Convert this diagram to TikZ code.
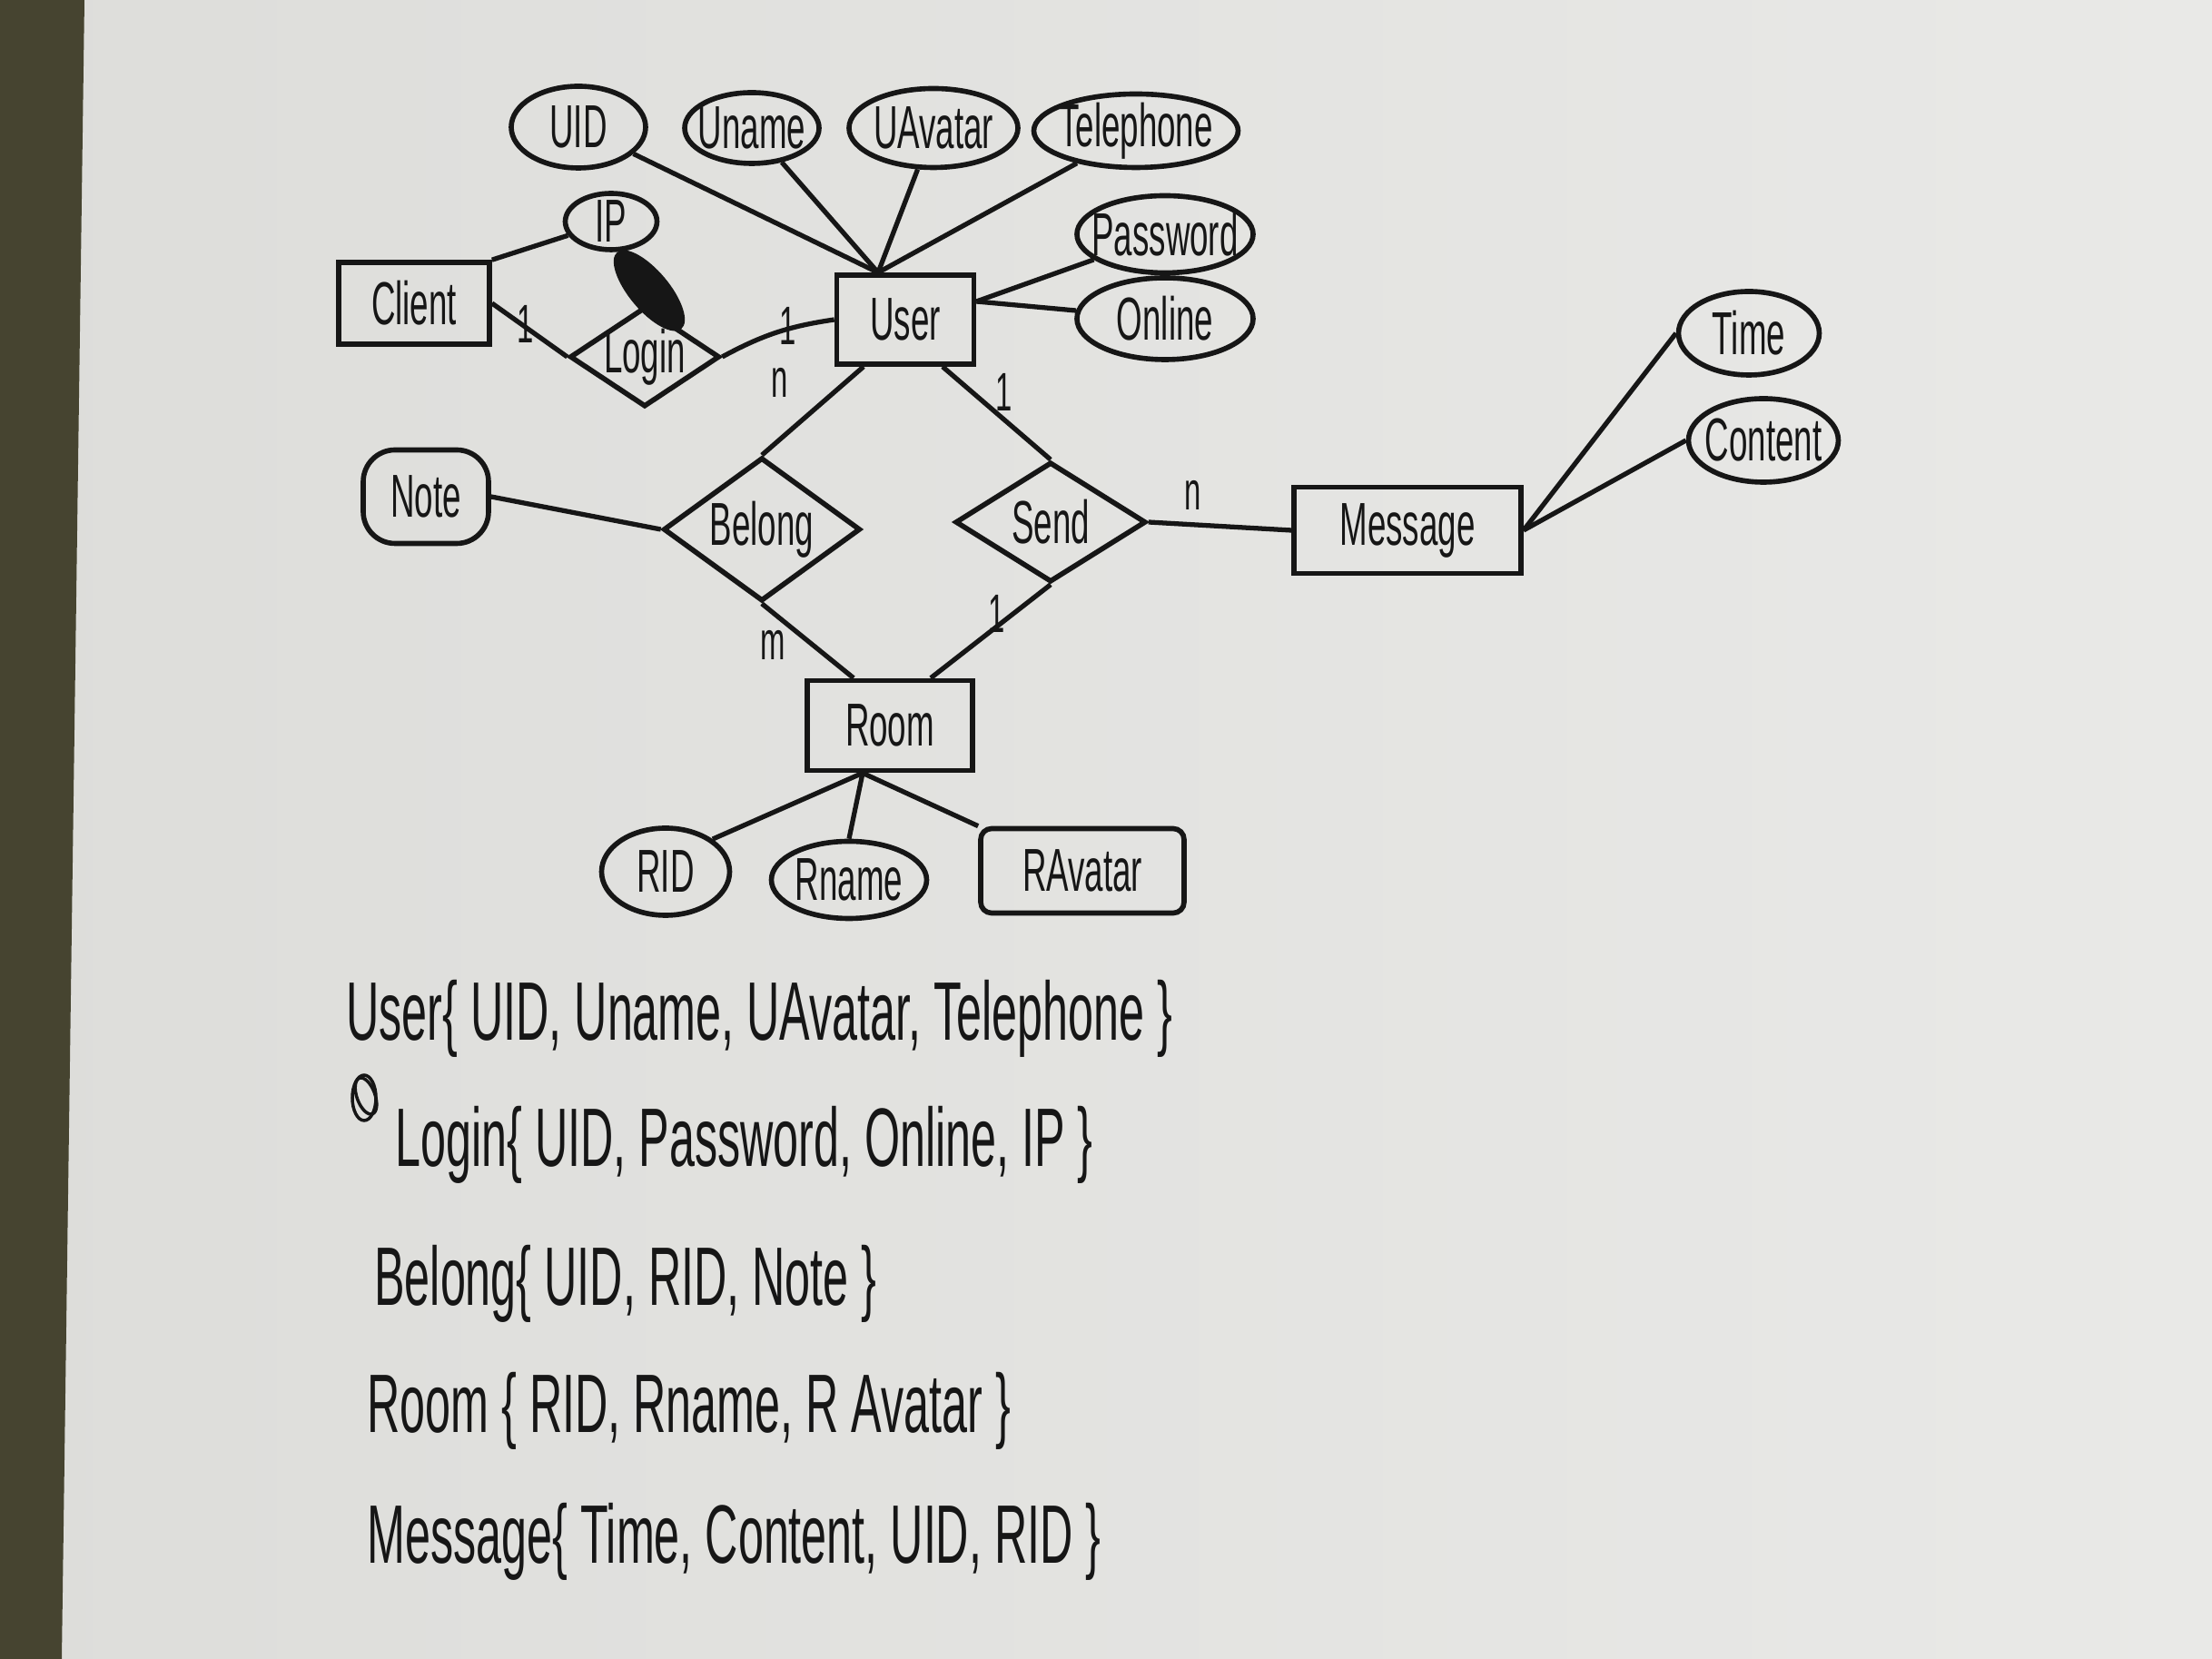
\documentclass[tikz,border=0pt]{standalone}
\usepackage{fontspec}
\setmainfont[FakeStretch=0.55]{Liberation Sans}
\usetikzlibrary{shapes.geometric}

\definecolor{penc}{RGB}{22,22,22}
\definecolor{paperl}{RGB}{221,221,218}
\definecolor{paperr}{RGB}{233,233,231}
\definecolor{stripc}{RGB}{70,68,48}

\newcommand{\erfont}{\fontsize{19}{22}\selectfont}
\newcommand{\cardfont}{\fontsize{17}{20}\selectfont}
\newcommand{\relfont}{\fontsize{26}{30}\selectfont}

\tikzset{
  pen/.style={draw=penc, line width=1.6pt},
  attrib/.style={ellipse, pen, inner sep=0pt},
  entity/.style={rectangle, pen, inner sep=0pt},
  relship/.style={diamond, pen, inner sep=0pt},
  conn/.style={penc, line width=1.5pt},
  card/.style={text=penc, font=\cardfont},
  schema/.style={anchor=west, text=penc, font=\relfont},
  every label/.style={text=penc, font=\erfont},
}

\begin{document}
\begin{tikzpicture}
\useasboundingbox (0,0) rectangle (24.36,18.27);
\shade[left color=paperl, right color=paperr] (0,0) rectangle (24.36,18.27);
\fill[stripc] (0,0) -- (0.68,0) -- (0.93,18.27) -- (0,18.27) -- cycle;

% entities
\node[entity, minimum width=1.66cm, minimum height=0.90cm, label=center:Client] (client) at (4.56,14.93) {};
\node[entity, minimum width=1.51cm, minimum height=0.98cm, label=center:User] (user) at (9.97,14.75) {};
\node[entity, minimum width=2.50cm, minimum height=0.95cm, label=center:Message] (message) at (15.50,12.43) {};
\node[entity, minimum width=1.82cm, minimum height=0.99cm, label=center:Room] (room) at (9.80,10.28) {};

% relationships
\node[relship, minimum width=1.65cm, minimum height=1.10cm, label=center:Login] (login) at (7.10,14.34) {};
\node[relship, minimum width=2.17cm, minimum height=1.58cm, label=center:Belong] (belong) at (8.39,12.44) {};
\node[relship, minimum width=2.10cm, minimum height=1.32cm, label=center:Send] (send) at (11.57,12.52) {};

% attributes
\node[attrib, minimum width=1.48cm, minimum height=0.90cm, label=center:UID] (uid) at (6.37,16.87) {};
\node[attrib, minimum width=1.48cm, minimum height=0.78cm, label=center:Uname] (uname) at (8.28,16.86) {};
\node[attrib, minimum width=1.86cm, minimum height=0.87cm, label=center:UAvatar] (uavatar) at (10.28,16.86) {};
\node[attrib, minimum width=2.25cm, minimum height=0.81cm, label=center:Telephone] (tel) at (12.51,16.83) {};
\node[attrib, minimum width=1.01cm, minimum height=0.62cm, label=center:IP] (ip) at (6.73,15.83) {};
\node[attrib, minimum width=1.94cm, minimum height=0.85cm, label=center:Password] (pwd) at (12.83,15.69) {};
\node[attrib, minimum width=1.94cm, minimum height=0.90cm, label=center:Online] (online) at (12.83,14.76) {};
\node[entity, rounded corners=0.35cm, minimum width=1.38cm, minimum height=1.03cm, label=center:Note] (note) at (4.69,12.80) {};
\node[attrib, minimum width=1.55cm, minimum height=0.92cm, label=center:Time] (time) at (19.26,14.60) {};
\node[attrib, minimum width=1.65cm, minimum height=0.92cm, label=center:Content] (content) at (19.42,13.42) {};
\node[attrib, minimum width=1.41cm, minimum height=0.96cm, label=center:RID] (rid) at (7.33,8.67) {};
\node[attrib, minimum width=1.71cm, minimum height=0.85cm, label=center:Rname] (rname) at (9.35,8.58) {};
\node[entity, rounded corners=0.12cm, minimum width=2.24cm, minimum height=0.93cm, label=center:RAvatar] (ravatar) at (11.92,8.68) {};

\coordinate (utop) at ([xshift=-0.30cm]user.north);
\coordinate (uright) at ([yshift=0.20cm]user.east);
\coordinate (rbot) at ([xshift=-0.30cm]room.south);

% connectors
\draw[conn] (uid) -- (utop);
\draw[conn] (uname) -- (utop);
\draw[conn] (uavatar) -- (utop);
\draw[conn] (tel) -- (utop);
\draw[conn] (pwd) -- (uright);
\draw[conn] (online) -- (uright);
\draw[conn] (ip) -- (client.north east);
\draw[conn] (client.east) -- (login.west);
\draw[conn] (login.east) to[bend left=10] (user.west);
\draw[conn] ([xshift=-0.46cm]user.south) -- (belong.north);
\draw[conn] ([xshift=0.41cm]user.south) -- (send.north);
\draw[conn] (note.east) -- (belong.west);
\draw[conn] (belong.south) -- ([xshift=-0.40cm]room.north);
\draw[conn] (send.south) -- ([xshift=0.45cm]room.north);
\draw[conn] (send.east) -- (message.west);
\draw[conn] (message.east) -- (time.west);
\draw[conn] (message.east) -- (content.west);
\draw[conn] (rbot) -- (rid.north east);
\draw[conn] (rbot) -- (rname.north);
\draw[conn] (rbot) -- (ravatar.north west);

% crossed out marks
\fill[penc, rotate around={-50:(7.15,15.07)}] (7.15,15.07) ellipse (0.55 and 0.22);
\draw[penc, line width=1pt] (4.01,6.18) ellipse (0.13 and 0.25);
\draw[penc, line width=1pt, rotate around={20:(4.03,6.20)}] (4.03,6.20) ellipse (0.10 and 0.21);

% cardinalities
\node[card] (cl1) at (5.79,14.70) {1};
\node[card] (cl2) at (8.68,14.68) {1};
\node[card] (cl3) at (8.59,14.06) {n};
\node[card] (cl4) at (11.06,13.95) {1};
\node[card] (cl5) at (13.14,12.82) {n};
\node[card] (cl6) at (8.51,11.17) {m};
\node[card] (cl7) at (10.98,11.51) {1};

% relations
\node[schema] (suser) at (3.69,7.05) {User\{ UID, Uname, UAvatar, Telephone \}};
\node[schema] (slogin) at (4.23,5.66) {Login\{ UID, Password, Online, IP \}};
\node[schema] (sbelong) at (4.00,4.13) {Belong\{ UID, RID, Note \}};
\node[schema] (sroom) at (3.92,2.73) {Room \{ RID, Rname, R Avatar \}};
\node[schema] (smsg) at (3.92,1.29) {Message\{ Time, Content, UID, RID \}};

\end{tikzpicture}
\end{document}
